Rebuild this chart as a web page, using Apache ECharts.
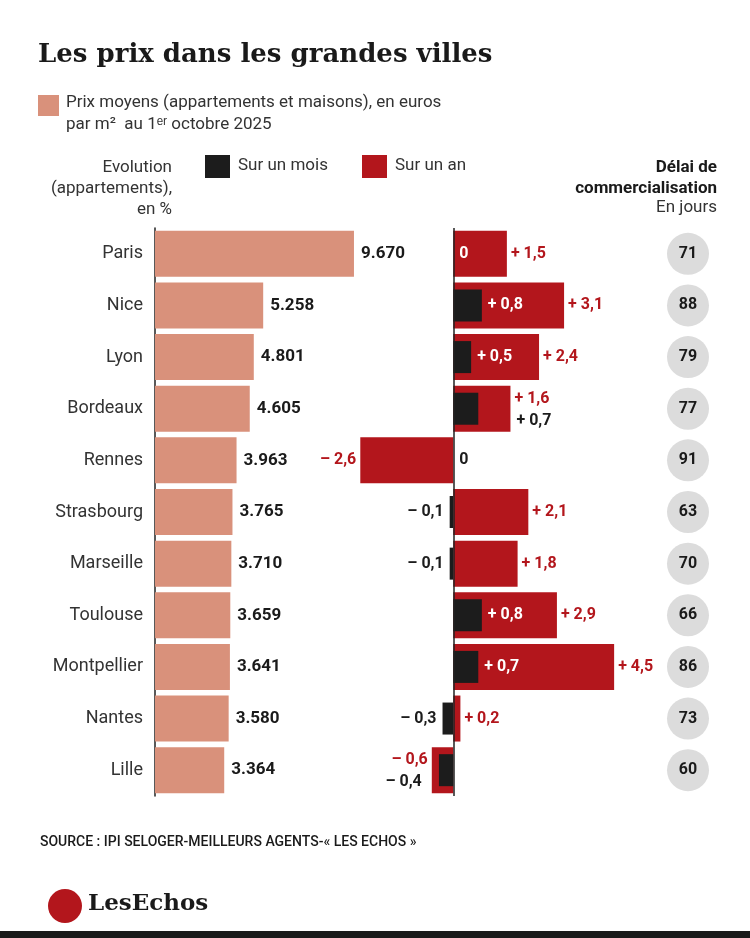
<!DOCTYPE html>
<html lang="fr">
<head>
<meta charset="UTF-8" />
<title>Les prix dans les grandes villes</title>
<script src="https://cdn.jsdelivr.net/npm/echarts@6/dist/echarts.min.js"></script>
<style>
  body { margin: 0; background: #fff; }
  #chart { width: 750px; height: 938px; }
</style>
</head>
<body>
<div id="chart"></div>
<script>
var villes = ['Paris', 'Nice', 'Lyon', 'Bordeaux', 'Rennes', 'Strasbourg', 'Marseille', 'Toulouse', 'Montpellier', 'Nantes', 'Lille'];
var prix = [9670, 5258, 4801, 4605, 3963, 3765, 3710, 3659, 3641, 3580, 3364];
var surUnMois = [0, 0.8, 0.5, 0.7, 0, -0.1, -0.1, 0.8, 0.7, -0.3, -0.4];
var surUnAn = [1.5, 3.1, 2.4, 1.6, -2.6, 2.1, 1.8, 2.9, 4.5, 0.2, -0.6];
var delai = [71, 88, 79, 77, 91, 63, 70, 66, 86, 73, 60];

var ROUGE = '#b3161c', NOIR = '#1c1c1c', SAUMON = '#d9917b';
var FONT = 'Roboto, "Liberation Sans", sans-serif';

function fmtPct(v) {
  if (v === 0) return '0';
  return (v > 0 ? '+ ' : '\u2013 ') + Math.abs(v).toFixed(1).replace('.', ',');
}
function fmtPrix(v) {
  return String(v).replace(/\B(?=(\d{3})+$)/g, '.');
}

var top0 = 228, rowsH = 568;
var PX_UNIT = 286 / 8;

var anData = surUnAn.map(function (v, i) {
  var off = [0, 0];
  if (i === 3 || i === 10) off = [0, -10];
  return { value: v, label: { position: v >= 0 ? 'right' : 'left', offset: off } };
});
var moisData = surUnMois.map(function (v, i) {
  var a = surUnAn[i];
  var inside = v >= 0 && a > v + 0.9;
  var off = [0, 0];
  if (i === 3) off = [(a - v) * PX_UNIT, 12];
  if (i === 10) off = [(a - v) * PX_UNIT - 4, 12];
  return {
    value: v,
    label: {
      position: v >= 0 ? 'right' : 'left',
      color: inside ? '#fff' : NOIR,
      offset: off
    }
  };
});

var chart = echarts.init(document.getElementById('chart'));
var yCat = function (g) {
  return { type: 'category', gridIndex: g, data: villes, inverse: true,
    axisTick: { show: false }, axisLabel: { show: false },
    axisLine: { show: false } };
};
chart.setOption({
  backgroundColor: '#fff',
  textStyle: { fontFamily: FONT },
  graphic: [
    { type: 'text', left: 38, top: 42, style: { text: 'Les prix dans les grandes villes', font: 'bold 26px "DejaVu Serif", serif', fill: '#1a1a1a' } },
    { type: 'rect', shape: { x: 38, y: 95, width: 21, height: 21 }, style: { fill: SAUMON } },
    { type: 'text', left: 66, top: 94, style: { text: 'Prix moyens (appartements et maisons), en euros', font: '17px ' + FONT, fill: '#333' } },
    { type: 'text', left: 66, top: 116, style: { text: 'par m\u00b2  au 1\u1d49\u02b3 octobre 2025', font: '17px ' + FONT, fill: '#333' } },
    { type: 'text', x: 172, y: 157, style: { text: 'Evolution\n(appartements),\nen %', align: 'right', font: '17px ' + FONT, lineHeight: 21, fill: '#333' } },
    { type: 'rect', shape: { x: 205, y: 155, width: 25, height: 23 }, style: { fill: NOIR } },
    { type: 'text', left: 238, top: 157, style: { text: 'Sur un mois', font: '17px ' + FONT, fill: '#333' } },
    { type: 'rect', shape: { x: 362, y: 155, width: 25, height: 23 }, style: { fill: ROUGE } },
    { type: 'text', left: 395, top: 157, style: { text: 'Sur un an', font: '17px ' + FONT, fill: '#333' } },
    { type: 'text', x: 717, y: 157, style: { text: 'Délai de\ncommercialisation', align: 'right', font: 'bold 17px ' + FONT, lineHeight: 21, fill: '#1a1a1a' } },
    { type: 'text', x: 717, y: 199, style: { text: 'En jours', align: 'right', font: '17px ' + FONT, fill: '#333' } },
    { type: 'text', left: 40, top: 835, style: { text: 'SOURCE : IPI SELOGER-MEILLEURS AGENTS-« LES ECHOS »', font: '500 14px ' + FONT, fill: '#1a1a1a' } },
    { type: 'circle', shape: { cx: 65, cy: 906, r: 17 }, style: { fill: ROUGE } },
    { type: 'text', left: 88, top: 893, style: { text: 'LesEchos', font: 'bold 23px "DejaVu Serif", serif', fill: '#1a1a1a' } },
    { type: 'rect', shape: { x: 0, y: 931, width: 750, height: 7 }, style: { fill: '#1a1a1a' } }
  ],
  grid: [
    { left: 155, top: top0, width: 250, height: rowsH },
    { left: 346, top: top0, width: 286, height: rowsH },
    { left: 346, top: top0, width: 286, height: rowsH },
    { left: 660, top: top0, width: 56, height: rowsH }
  ],
  xAxis: [
    { type: 'value', gridIndex: 0, min: 0, max: 12150, show: false },
    { type: 'value', gridIndex: 1, min: -3, max: 5, show: false },
    { type: 'value', gridIndex: 2, min: -3, max: 5, show: false },
    { type: 'value', gridIndex: 3, min: 0, max: 1, show: false }
  ],
  yAxis: [
    { type: 'category', gridIndex: 0, data: villes, inverse: true,
      axisTick: { show: false },
      axisLine: { show: true, lineStyle: { color: '#222', width: 1.5 } },
      axisLabel: { color: '#333', fontSize: 18, margin: 12, fontFamily: FONT } },
    yCat(1), yCat(2), yCat(3)
  ],
  series: [
    { type: 'bar', xAxisIndex: 0, yAxisIndex: 0, data: prix, barWidth: 46,
      itemStyle: { color: SAUMON },
      label: { show: true, position: 'right', distance: 7, color: '#1a1a1a', fontSize: 17, fontWeight: 'bold',
        formatter: function (p) { return fmtPrix(p.value); } } },
    { type: 'bar', xAxisIndex: 1, yAxisIndex: 1, data: anData, barWidth: 46,
      itemStyle: { color: ROUGE },
      label: { show: true, distance: 4, color: ROUGE, fontSize: 16, fontWeight: 'bold',
        formatter: function (p) { return fmtPct(p.value); } },
      markLine: { silent: true, symbol: 'none', label: { show: false },
        lineStyle: { color: '#222', width: 1.5, type: 'solid' },
        data: [{ xAxis: 0 }] } },
    { type: 'bar', xAxisIndex: 2, yAxisIndex: 2, data: moisData, barWidth: 32,
      itemStyle: { color: NOIR },
      label: { show: true, distance: 6, fontSize: 16, fontWeight: 'bold',
        formatter: function (p) { return fmtPct(p.value); } } },
    { type: 'scatter', xAxisIndex: 3, yAxisIndex: 3, symbolSize: 42,
      data: delai.map(function (d, i) { return [0.5, i]; }),
      itemStyle: { color: '#dcdcdc', opacity: 1 },
      label: { show: true, position: 'inside', color: '#1a1a1a', fontSize: 16, fontWeight: 'bold',
        formatter: function (p) { return String(delai[p.dataIndex]); } } }
  ]
});
</script>
</body>
</html>
